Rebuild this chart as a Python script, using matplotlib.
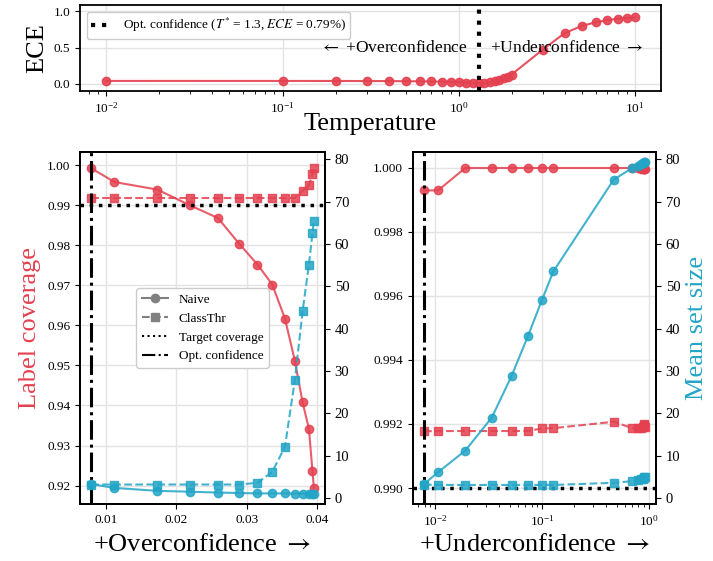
import numpy as np
import matplotlib
matplotlib.use('Agg')
import matplotlib.pyplot as plt
from matplotlib.lines import Line2D
from matplotlib.ticker import FormatStrFormatter

plt.rcParams['font.family'] = ['Liberation Serif', 'DejaVu Serif']
plt.rcParams['mathtext.fontset'] = 'stix'
plt.rcParams['axes.linewidth'] = 1.3

RED = '#e4404f'
BLUE = '#22a5c6'
GRID = '#e3e3e3'

# temperature sweep (top panel)
TEMPS = [0.01, 0.1, 0.2, 0.3, 0.4, 0.5, 0.6, 0.7, 0.8, 0.9, 1.0, 1.1, 1.2, 1.3,
         1.4, 1.5, 1.6, 1.7, 1.8, 1.9, 2.0, 3, 4, 5, 6, 7, 8, 9, 10]
ECE = [0.0395, 0.0393, 0.0388, 0.0379, 0.0368, 0.0354, 0.0336, 0.0315, 0.0289,
       0.0259, 0.0219, 0.0173, 0.0112, 0.0079, 0.0107, 0.0192, 0.034, 0.052,
       0.074, 0.100, 0.128, 0.471, 0.70, 0.80, 0.85, 0.88, 0.90, 0.91, 0.92]
T_OPT = 1.3
ECE_OPT = 0.0079
TARGET = 0.99

# overconfident side (T = 1.3 down to 0.01)
OVER_ECE = [0.0079, 0.0112, 0.0173, 0.0219, 0.0259, 0.0289, 0.0315, 0.0336,
            0.0354, 0.0368, 0.0379, 0.0388, 0.0393, 0.0395]
OVER_COV_NAIVE = [0.99925, 0.9958, 0.9939, 0.9900, 0.9868, 0.9804, 0.9752,
                  0.9702, 0.9617, 0.9512, 0.9408, 0.9342, 0.9237, 0.9194]
OVER_COV_CLS = [0.9918, 0.9918, 0.9918, 0.9918, 0.9918, 0.9918, 0.9918,
                0.9918, 0.9918, 0.9918, 0.9936, 0.9950, 0.9977, 0.9993]
OVER_SIZE_NAIVE = [3.3, 2.4, 1.7, 1.5, 1.3, 1.2, 1.1, 1.1, 1.1, 1.05, 1.05,
                   1.0, 1.0, 1.0]
OVER_SIZE_CLS = [3.2, 3.2, 3.2, 3.2, 3.2, 3.2, 3.6, 6.2, 12.1, 27.8, 44.1,
                 55.1, 62.5, 65.3]

# underconfident side (T = 1.3 up to 10)
UNDER_ECE = [0.0079, 0.0107, 0.0192, 0.034, 0.052, 0.074, 0.100, 0.128,
             0.471, 0.70, 0.80, 0.85, 0.88, 0.90, 0.91, 0.92]
UNDER_COV_NAIVE = [0.99930, 0.99930, 1.0, 1.0, 1.0, 1.0, 1.0, 1.0, 1.0, 1.0,
                   1.0, 0.99998, 0.99997, 0.99997, 0.99997, 0.99997]
UNDER_COV_CLS = [0.99177, 0.99178, 0.99178, 0.99178, 0.99178, 0.99178,
                 0.99186, 0.99187, 0.99207, 0.99187, 0.99187, 0.99188,
                 0.99190, 0.99198, 0.99200, 0.99190]
UNDER_SIZE_NAIVE = [3.3, 6.1, 11.2, 19.0, 28.8, 38.2, 46.7, 53.5, 75.2, 77.9,
                    78.5, 78.8, 79.0, 79.2, 79.3, 79.4]
UNDER_SIZE_CLS = [3.2, 3.1, 3.1, 3.1, 3.1, 3.1, 3.1, 3.1, 3.6, 4.0, 4.2, 4.4,
                  4.6, 4.8, 4.9, 5.0]

TICK_FS = 9.5
LABEL_FS = 19

fig = plt.figure(figsize=(7.13, 5.61), dpi=100)
ax_top = fig.add_axes([0.1122, 0.8378, 0.815, 0.1533])
ax_l = fig.add_axes([0.1122, 0.1016, 0.3436, 0.6275])
ax_r = fig.add_axes([0.5792, 0.1016, 0.3408, 0.6275])

# --- top: ECE vs temperature
ax_top.plot(TEMPS, ECE, 'o-', color=RED, alpha=0.9, markersize=6, lw=1.5)
ax_top.axvline(T_OPT, color='black', ls=':', lw=3,
               label=r'Opt. confidence ($T^{*}$ = 1.3, $ECE$ = 0.79%)')
ax_top.set_xscale('log')
ax_top.set_ylim(-0.1, 1.09)
ax_top.set_yticks([0.0, 0.5, 1.0])
ax_top.grid(True, color=GRID, lw=1)
ax_top.set_axisbelow(True)
ax_top.set_ylabel('ECE', fontsize=LABEL_FS)
ax_top.set_xlabel('Temperature', fontsize=LABEL_FS, labelpad=-2)
ax_top.tick_params(labelsize=TICK_FS)
ax_top.annotate(r'$\leftarrow$ +Overconfidence', xy=(T_OPT, 0.5),
                xytext=(-8, 0), textcoords='offset points',
                ha='right', va='center', fontsize=12.5)
ax_top.annotate(r'+Underconfidence $\rightarrow$', xy=(T_OPT, 0.5),
                xytext=(8, 0), textcoords='offset points',
                ha='left', va='center', fontsize=12.5)
ax_top.legend(loc='upper left', fontsize=9.5, handlelength=1.6,
              borderpad=0.35, framealpha=1, edgecolor='#cccccc')


def draw_panel(ax, x, cov_naive, cov_cls, size_naive, size_cls):
    ax.plot(x, cov_naive, 'o-', color=RED, alpha=0.85, markersize=6, lw=1.5)
    ax.plot(x, cov_cls, 's--', color=RED, alpha=0.85, markersize=6, lw=1.5)
    ax.axhline(TARGET, color='black', ls=':', lw=2.5)
    ax.axvline(ECE_OPT, color='black', ls='-.', lw=2.2)
    ax.grid(True, color=GRID, lw=1)
    ax.set_axisbelow(True)
    ax.tick_params(labelsize=TICK_FS)
    tw = ax.twinx()
    tw.plot(x, size_naive, 'o-', color=BLUE, alpha=0.85, markersize=6, lw=1.5)
    tw.plot(x, size_cls, 's--', color=BLUE, alpha=0.85, markersize=6, lw=1.5)
    tw.set_ylim(-1.4, 81.7)
    tw.set_yticks(range(0, 81, 10))
    tw.tick_params(labelsize=TICK_FS + 1)
    return tw


tw_l = draw_panel(ax_l, OVER_ECE, OVER_COV_NAIVE, OVER_COV_CLS,
                  OVER_SIZE_NAIVE, OVER_SIZE_CLS)
ax_l.set_yticks(np.arange(0.92, 1.0001, 0.01))
ax_l.yaxis.set_major_formatter(FormatStrFormatter('%.2f'))
ax_l.set_xticks([0.01, 0.02, 0.03, 0.04])
ax_l.set_ylabel('Label coverage', fontsize=LABEL_FS, color=RED)
ax_l.set_xlabel(r'+Overconfidence $\rightarrow$', fontsize=LABEL_FS)
ax_l.xaxis.set_label_coords(0.5, -0.085)

tw_r = draw_panel(ax_r, UNDER_ECE, UNDER_COV_NAIVE, UNDER_COV_CLS,
                  UNDER_SIZE_NAIVE, UNDER_SIZE_CLS)
ax_r.set_xscale('log')
ax_r.set_yticks(np.arange(0.990, 1.0001, 0.002))
ax_r.yaxis.set_major_formatter(FormatStrFormatter('%.3f'))
ax_r.set_xlabel(r'+Underconfidence $\rightarrow$', fontsize=LABEL_FS)
ax_r.xaxis.set_label_coords(0.5, -0.085)
tw_r.set_ylabel('Mean set size', fontsize=LABEL_FS, color=BLUE)

handles = [
    Line2D([], [], color='gray', marker='o', ls='-', lw=1.5, markersize=6),
    Line2D([], [], color='gray', marker='s', ls='--', lw=1.5, markersize=6),
    Line2D([], [], color='black', ls=':', lw=1.5),
    Line2D([], [], color='black', ls='-.', lw=1.5),
]
tw_l.legend(handles, ['Naive', 'ClassThr', 'Target coverage', 'Opt. confidence'],
            loc='center', fontsize=9.5, framealpha=1, edgecolor='#cccccc')

fig.savefig('out.png', dpi=100)
